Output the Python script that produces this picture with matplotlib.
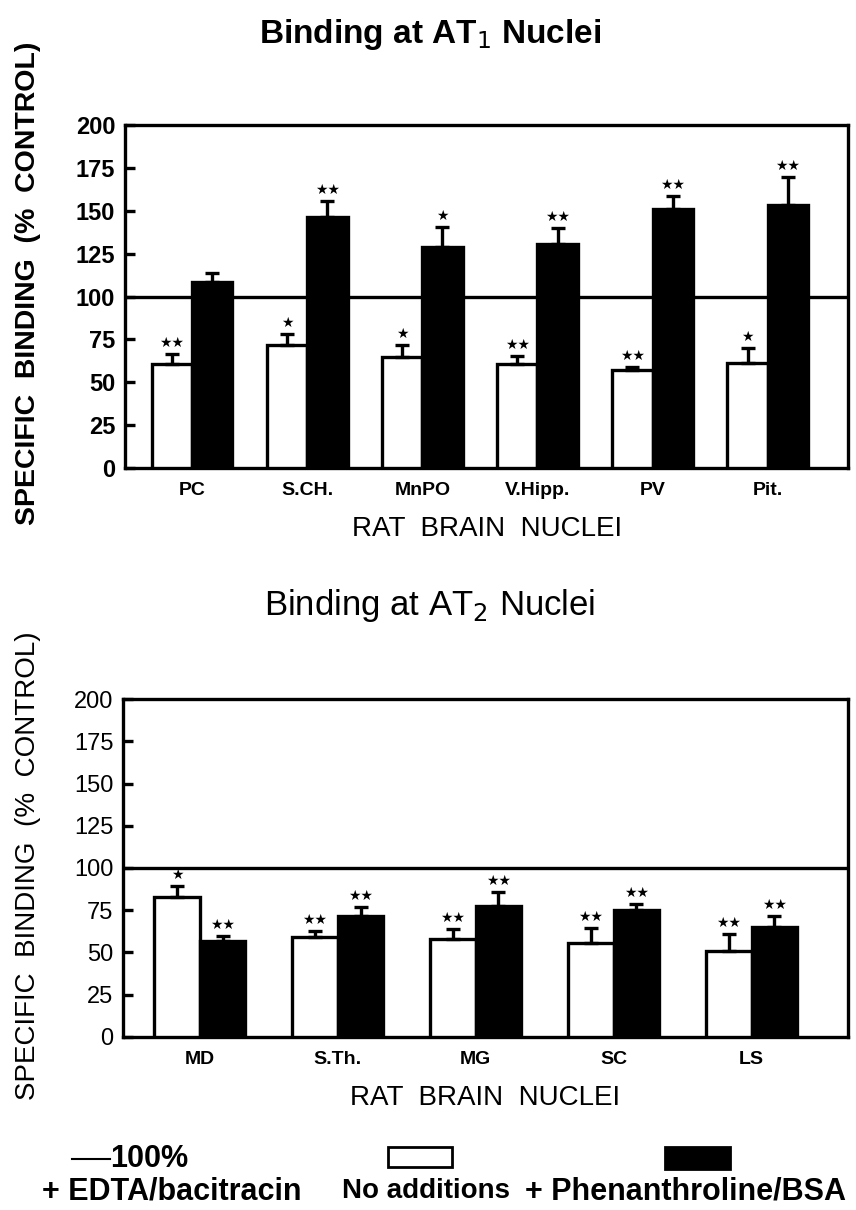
import matplotlib
matplotlib.use("Agg")
import numpy as np
import matplotlib.pyplot as plt
from matplotlib.patches import Rectangle
from matplotlib.lines import Line2D

plt.rcParams['font.family'] = ['Liberation Sans', 'DejaVu Sans']

# ---- data: AT1 nuclei ----
at1_names = ['PC', 'S.CH.', 'MnPO', 'V.Hipp.', 'PV', 'Pit.']
at1_none = [60.6, 71.7, 64.5, 60.6, 57.1, 61.0]
at1_none_err = [5.9, 6.4, 7.2, 4.9, 1.6, 9.0]
at1_phen = [108.6, 146.5, 129.0, 130.6, 150.8, 153.4]
at1_phen_err = [4.9, 9.4, 11.7, 9.2, 7.8, 16.1]
at1_none_sig = ['**', '*', '*', '**', '**', '*']
at1_phen_sig = ['', '**', '*', '**', '**', '**']

# ---- data: AT2 nuclei ----
at2_names = ['MD', 'S.Th.', 'MG', 'SC', 'LS']
at2_none = [82.7, 59.0, 57.8, 55.4, 51.1]
at2_none_err = [6.8, 3.7, 5.9, 8.9, 9.7]
at2_phen = [56.8, 71.6, 77.7, 75.1, 65.3]
at2_phen_err = [3.0, 5.1, 8.3, 3.6, 6.3]
at2_none_sig = ['*', '**', '**', '**', '**']
at2_phen_sig = ['**', '**', '**', '**', '**']

yticks = [0, 25, 50, 75, 100, 125, 150, 175, 200]
LW = 2.4


def stars(ax, xs, vals, errs, sigs):
    for xi, v, e, s in zip(xs, vals, errs, sigs):
        if s:
            ax.annotate(s.replace('*', '★'), (xi, v + e), xytext=(0, 3),
                        textcoords='offset points', ha='center', va='bottom',
                        fontsize=10, family='DejaVu Sans')


def draw_panel(ax, names, none, none_err, phen, phen_err, none_sig, phen_sig,
               width, xlim, weight):
    x = np.arange(len(names))
    xw = x - width / 2
    xb = x + width / 2
    ax.bar(xw, none, width, color='white', edgecolor='black', linewidth=LW, zorder=3)
    ax.bar(xb, phen, width, color='black', edgecolor='black', linewidth=LW, zorder=3)
    ax.errorbar(xw, none, yerr=[np.zeros(len(x)), none_err], fmt='none',
                ecolor='black', elinewidth=LW, capsize=5, capthick=LW, zorder=4)
    ax.errorbar(xb, phen, yerr=[np.zeros(len(x)), phen_err], fmt='none',
                ecolor='black', elinewidth=LW, capsize=5, capthick=LW, zorder=4)
    stars(ax, xw, none, none_err, none_sig)
    stars(ax, xb, phen, phen_err, phen_sig)
    ax.axhline(100, color='black', linewidth=LW, zorder=2)
    ax.set_xlim(*xlim)
    ax.set_ylim(0, 200)
    ax.set_yticks(yticks)
    ax.set_yticklabels([str(t) for t in yticks], fontsize=17, fontweight=weight)
    ax.set_xticks(x)
    ax.set_xticklabels(names, fontsize=14, fontweight='bold')
    ax.tick_params(axis='y', direction='in', length=7, width=LW, pad=7)
    ax.tick_params(axis='x', length=0, pad=10)
    for sp in ax.spines.values():
        sp.set_linewidth(LW)
    ax.set_xlabel('RAT  BRAIN  NUCLEI', fontsize=20, labelpad=12)


fig = plt.figure(figsize=(8.56, 12.10), dpi=100)

ax1 = fig.add_axes([0.146, 0.6132, 0.845, 0.2835])
draw_panel(ax1, at1_names, at1_none, at1_none_err, at1_phen, at1_phen_err,
           at1_none_sig, at1_phen_sig, 0.35, (-0.583, 5.70), 'bold')
fig.text(0.502, 1 - 35 / 1210, r'Binding at AT$_1$ Nuclei', fontsize=24,
         fontweight='bold', ha='center', va='center')
fig.text(0.033, 1 - 283 / 1210, 'SPECIFIC  BINDING  (%  CONTROL)', rotation=90,
         ha='center', va='center', fontsize=20.5, fontweight='bold')

ax2 = fig.add_axes([0.1437, 0.1430, 0.847, 0.2793])
draw_panel(ax2, at2_names, at2_none, at2_none_err, at2_phen, at2_phen_err,
           at2_none_sig, at2_phen_sig, 0.33, (-0.558, 4.70), 'normal')
fig.text(0.502, 1 - 605 / 1210, r'Binding at AT$_2$ Nuclei', fontsize=25,
         ha='center', va='center')
fig.text(0.033, 1 - 866 / 1210, 'SPECIFIC  BINDING  (%  CONTROL)', rotation=90,
         ha='center', va='center', fontsize=20)

# ---- legend ----
lg = fig.add_axes([0, 0, 1, 0.06])
lg.set_xlim(0, 856)
lg.set_ylim(72.6, 0)
lg.axis('off')
lg.add_line(Line2D([72, 110], [22, 22], color='black', linewidth=1.5))
lg.text(110, 22, '100%', fontsize=22, fontweight='bold', ha='left', va='center')
lg.add_patch(Rectangle((388, 10), 64, 20, facecolor='white', edgecolor='black', linewidth=2))
lg.add_patch(Rectangle((665, 10), 65, 22, facecolor='black', edgecolor='black', linewidth=2))
lg.text(172, 54, '+ EDTA/bacitracin', fontsize=22, fontweight='bold', ha='center', va='center')
lg.text(426, 54, 'No additions', fontsize=20, fontweight='bold', ha='center', va='center')
lg.text(686, 54, '+ Phenanthroline/BSA', fontsize=22, fontweight='bold', ha='center', va='center')

fig.savefig('out.png', dpi=100)
